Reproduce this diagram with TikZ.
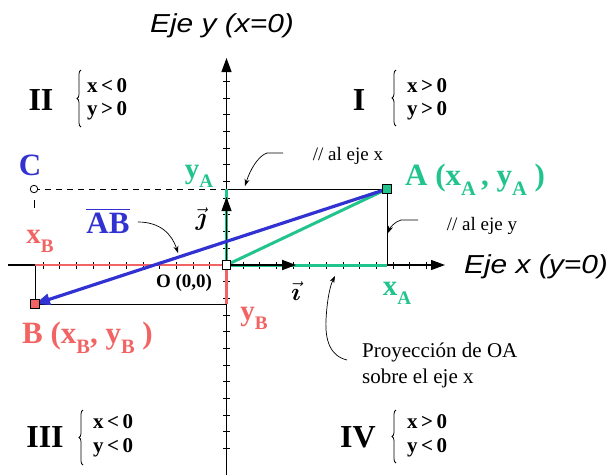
\documentclass[tikz,border=0pt]{standalone}
\usepackage{amsmath}
\usepackage{fontspec}
\usepackage{graphicx}
\setmainfont{Liberation Serif}
\newfontfamily\ejefont[FakeStretch=1.15]{Liberation Sans}
\usetikzlibrary{arrows.meta,decorations.pathreplacing}
\definecolor{gA}{RGB}{32,196,140}
\definecolor{rB}{RGB}{242,100,100}
\definecolor{bAB}{RGB}{50,50,210}
\newcommand\subx[1]{\raisebox{-0.33em}{\scalebox{0.66}{#1}}}
\begin{document}
\begin{tikzpicture}[x=1pt,y=-1pt,
  axisline/.style={line width=1.2pt,-{Triangle[length=14pt,width=10pt]}},
  tick/.style={line width=1pt},
  guide/.style={line width=1pt,black},
  seg/.style={line width=3pt},
  vecarrow/.style={line width=1.8pt,-{Triangle[length=14pt,width=10pt]}},
  leader/.style={line width=0.7pt,-{Stealth[length=7pt,width=5pt]}},
  sqmark/.style={draw=black,line width=0.8pt,minimum size=8.5pt,inner sep=0pt,rectangle},
  big/.style={font=\fontsize{31}{36}\selectfont\bfseries,inner sep=0pt,anchor=base},
  lab/.style={font=\fontsize{29}{34}\selectfont\bfseries,inner sep=0pt,anchor=base},
  quadlab/.style={font=\fontsize{32}{36}\selectfont\bfseries,inner sep=0pt,anchor=base},
  cond/.style={font=\fontsize{21}{24}\selectfont\bfseries,inner sep=0pt,anchor=base west},
  note/.style={font=\fontsize{19}{22}\selectfont,inner sep=0pt,anchor=base},
  proy/.style={font=\fontsize{21}{24}\selectfont,inner sep=0pt,anchor=base west},
  eje/.style={font=\ejefont\itshape\fontsize{26}{30}\selectfont,inner sep=0pt,anchor=base},
  unitlab/.style={font=\fontsize{26}{30}\selectfont,inner sep=0pt},
  brc/.style={decorate,decoration={brace,amplitude=4pt},line width=0.8pt}
]
\useasboundingbox (0,0) rectangle (610,475);

% key points
\coordinate (O) at (226.5,265);
\coordinate (xl) at (8,265);
\coordinate (xr) at (445,265);
\coordinate (yb) at (226.5,475);
\coordinate (yt) at (226.5,58);
\coordinate (yAp) at (226.5,189);
\coordinate (xAp) at (387,265);
\coordinate (xBp) at (35,265);
\coordinate (yBp) at (226.5,304);
\coordinate (iT) at (296,265);
\coordinate (jT) at (226.5,197);
\coordinate (Cd1) at (34,200);
\coordinate (Cd2) at (34,208);

% axes
\draw[axisline] (xl) -- (xr);
\draw[axisline] (yb) -- (yt);
\foreach \k in {1,...,12} \draw[tick] ({226.5+16.67*\k},261.5) -- ++(0,7);
\foreach \k in {1,...,11} \draw[tick] ({226.5-16.67*\k},261.5) -- ++(0,7);
\foreach \k in {1,...,11} \draw[tick] (223,{265-16.67*\k}) -- ++(7,0);
\foreach \k in {1,...,11} \draw[tick] (223,{265+16.67*\k}) -- ++(7,0);

% guide lines
\draw[guide] (yAp) -- (xAp |- yAp) coordinate (Ac);
\draw[guide] (Ac) -- (xAp);
\draw[guide] (xBp) -- (xBp |- yBp) coordinate (Bc);
\draw[guide] (Bc) -- (yBp);
\draw[guide,dash pattern=on 6pt off 5pt] (34,189) coordinate (Cc) -- (yAp);
\draw[guide] (Cd1) -- (Cd2);

% coloured projections
\draw[seg,rB,line width=2.6pt] (O) -- (xBp);
\draw[seg,rB,line width=2.6pt] (O) -- (yBp);
\draw[seg,gA] (O) -- (xAp);
\draw[seg,gA] (O) -- (yAp);
\draw[seg,gA] (O) -- (Ac);

% unit vectors
\draw[vecarrow] (O) -- (iT);
\draw[line width=1pt,-{Triangle[length=14pt,width=10pt]}] (O) -- (jT);

% vector AB
\draw[line width=3.2pt,bAB,-{Triangle[length=15pt,width=11pt]}] (Ac) -- (Bc);

% markers
\node[sqmark,fill=gA] (A) at (Ac) {};
\node[sqmark,fill=rB] (B) at (Bc) {};
\node[sqmark,fill=white] (On) at (O) {};
\node[draw=black,fill=white,circle,line width=0.8pt,minimum size=7.5pt,inner sep=0pt] (C) at (Cc) {};

% axis titles
\node[eje] (ejey) at (222,32) {Eje y (x=0)};
\node[eje] (ejex) at (536,273) {Eje x (y=0)};

% quadrants
\node[quadlab] (qII) at (41,110) {II};
\draw[brc] (81,127) -- (81,70);
\node[cond] (cII1) at (87,92) {x\,<\,0};
\node[cond] (cII2) at (87,115) {y\,>\,0};

\node[quadlab] (qI) at (359,110) {I};
\draw[brc] (396,126) -- (396,70);
\node[cond] (cI1) at (407,92) {x\,>\,0};
\node[cond] (cI2) at (407,115) {y\,>\,0};

\node[quadlab] (qIII) at (45,447) {III};
\draw[brc] (83,465) -- (83,410);
\node[cond] (cIII1) at (93,428) {x\,<\,0};
\node[cond] (cIII2) at (93,452) {y\,<\,0};

\node[quadlab] (qIV) at (358,447) {IV};
\draw[brc] (396,463) -- (396,410);
\node[cond] (cIV1) at (407,428) {x\,>\,0};
\node[cond] (cIV2) at (407,452) {y\,<\,0};

% point labels
\node[big,bAB] (Clab) at (30,175) {C};
\node[big,gA,anchor=base west] (Alab) at (405,185) {A (x\subx{A}\,, y\subx{A} )};
\node[big,rB,anchor=base west] (Blab) at (22,343) {B (x\subx{B}, y\subx{B} )};
\node[lab,gA] (yAlab) at (199,178) {y\subx{A}};
\node[lab,gA] (xAlab) at (397,295) {x\subx{A}};
\node[lab,rB] (xBlab) at (40,243) {x\subx{B}};
\node[lab,rB] (yBlab) at (254,320) {y\subx{B}};
\node[big,bAB] (ABlab) at (108,233) {$\overline{\hbox{\bfseries AB}}$};
\node[font=\fontsize{19}{22}\selectfont\bfseries,inner sep=0pt,anchor=base] (Olab) at (184,287) {O (0,0)};
\node[unitlab] (jlab) at (201,219) {$\vec{\boldsymbol{\jmath}}$};
\node[unitlab] (ilab) at (296,291) {$\vec{\boldsymbol{\imath}}$};

% notes
\node[note] (nx) at (348,160) {// al eje x};
\node[note] (ny) at (482,230) {// al eje y};
\node[proy] (p1) at (362,357) {Proyección de OA};
\node[proy] (p2) at (362,383) {sobre el eje x};

% leaders
\coordinate (lx0) at (283,153);
\coordinate (lx1) at (267,153);
\coordinate (lxT) at (245,186);
\draw[leader] (lx0) -- (lx1) .. controls (258,156) and (250,170) .. (lxT);
\coordinate (ly0) at (418,220);
\coordinate (ly1) at (401,220);
\coordinate (lyT) at (388,233);
\draw[leader] (ly0) -- (ly1) .. controls (394,222) and (390,228) .. (lyT);
\coordinate (lab0) at (138,222);
\coordinate (labT) at (178,253);
\draw[leader] (lab0) .. controls (160,222) and (172,234) .. (labT);
\coordinate (lp0) at (347,360);
\coordinate (lpm) at (326,320);
\coordinate (lpT) at (335,276);
\draw[leader] (lp0) .. controls (330,356) and (325,340) .. (lpm) .. controls (327,300) and (330,286) .. (lpT);
\end{tikzpicture}
\end{document}
